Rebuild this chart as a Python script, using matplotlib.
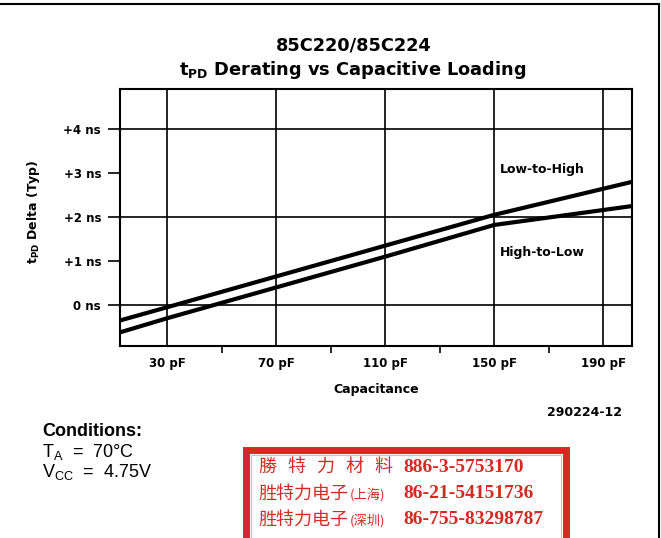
import matplotlib
matplotlib.use("Agg")
import matplotlib.pyplot as plt
from matplotlib.patches import Rectangle
from matplotlib.lines import Line2D

plt.rcParams['mathtext.fontset'] = 'custom'
plt.rcParams['mathtext.rm'] = 'Liberation Sans'
plt.rcParams['mathtext.it'] = 'Liberation Sans'
plt.rcParams['mathtext.bf'] = 'DejaVu Sans:bold'
plt.rcParams['font.family'] = 'DejaVu Sans'

# data
cap_pf = [12.75, 30, 70, 110, 150, 200.6]
low_to_high = [-0.35, -0.05, 0.65, 1.35, 2.05, 2.8]
high_to_low = [-0.62, -0.30, 0.40, 1.10, 1.82, 2.25]

x_major = [30, 70, 110, 150, 190]
x_minor = [50, 90, 130, 170]
x_labels = ["30 pF", "70 pF", "110 pF", "150 pF", "190 pF"]
y_ticks = [0, 1, 2, 3, 4]
y_labels = ["0 ns", "+1 ns", "+2 ns", "+3 ns", "+4 ns"]
y_grid = [0, 2, 4]

W, H = 661, 538
fig = plt.figure(figsize=(W / 100, H / 100), dpi=100)

def fx(px):
    return px / W

def fy(py):
    return 1 - py / H

ax = fig.add_axes([fx(120), fy(346), fx(632) - fx(120), fy(89) - fy(346)])
ax.set_xlim(12.75, 200.6)
ax.set_ylim(-0.93, 4.91)

for x in x_major:
    ax.axvline(x, color="black", lw=1.2, zorder=1)
for y in y_grid:
    ax.axhline(y, color="black", lw=1.2, zorder=1)

ax.plot(cap_pf, low_to_high, color="black", lw=3.0, solid_capstyle="butt", zorder=3)
ax.plot(cap_pf, high_to_low, color="black", lw=3.0, solid_capstyle="butt", zorder=3)

ax.text(152, 3.09, "Low-to-High", fontsize=9, weight="bold", va="center", ha="left")
ax.text(152, 1.20, "High-to-Low", fontsize=9, weight="bold", va="center", ha="left")

ax.set_xticks(x_major)
ax.set_xticklabels(x_labels, fontsize=8.5, weight="bold")
ax.set_xticks(x_minor, minor=True)
ax.tick_params(axis="x", which="major", length=0, pad=8)
ax.tick_params(axis="x", which="minor", length=5, width=1.2, direction="out")
ax.set_yticks(y_ticks)
ax.set_yticklabels(y_labels, fontsize=8.5, weight="bold")
ax.tick_params(axis="y", length=8.6, width=1.2, direction="out", pad=5)
for s in ax.spines.values():
    s.set_linewidth(1.5)

ax.set_xlabel("Capacitance", fontsize=9, weight="bold", labelpad=9)
fig.text(fx(33), fy(212), r"$\mathbf{t_{PD}}$ Delta (Typ)", rotation=90,
         fontsize=9, weight="bold", ha="center", va="center")

fig.text(fx(354), fy(45), "85C220/85C224", fontsize=12.8,
         weight="bold", ha="center", va="center")
fig.text(fx(353), fy(70), r"$\mathbf{t_{PD}}$ Derating vs Capacitive Loading", fontsize=12.8,
         weight="bold", ha="center", va="center")

fig.text(fx(622), fy(412), "290224-12", fontsize=9, weight="bold", ha="right", va="center")

fig.text(fx(42), fy(431), "Conditions:", fontsize=13, family="Liberation Sans",
         weight="bold", ha="left", va="center")
fig.text(fx(42), fy(452), r"$\mathrm{T_A}$  =  70°C", fontsize=13,
         family="Liberation Sans", ha="left", va="center")
fig.text(fx(42), fy(472), r"$\mathrm{V_{CC}}$  =  4.75V", fontsize=13,
         family="Liberation Sans", ha="left", va="center")

# page border
fig.add_artist(Line2D([0, fx(659)], [fy(4), fy(4)], color="black", lw=1.5))
fig.add_artist(Line2D([fx(659), fx(659)], [fy(4), 0], color="black", lw=1.5))

# red contact box
red = "#d42a22"
fig.add_artist(Rectangle((fx(246), fy(560)), fx(566) - fx(246), fy(450) - fy(560),
                         fill=False, edgecolor=red, lw=5))
fig.add_artist(Rectangle((fx(251), fy(560)), fx(561) - fx(251), fy(455) - fy(560),
                         fill=False, edgecolor="#f0b0b0", lw=0.8))

cjk = ["Noto Sans CJK TC", "DejaVu Sans"]
serif = ["Liberation Serif", "Noto Sans CJK SC"]
rows = [("勝特力材料", "", "886-3-5753170", 467),
        ("胜特力电子", "(上海)", "86-21-54151736", 494),
        ("胜特力电子", "(深圳)", "86-755-83298787", 520)]
for name, city, phone, y in rows:
    if city:
        fig.text(fx(258), fy(y), name, fontsize=13, family=cjk, color=red,
                 ha="left", va="center")
        fig.text(fx(350), fy(y + 1), city, fontsize=9.5, family=cjk, color=red,
                 ha="left", va="center")
    else:
        for i, ch in enumerate(name):
            fig.text(fx(258 + i * 29), fy(y), ch, fontsize=13, family=cjk, color=red,
                     ha="left", va="center")
    fig.text(fx(403), fy(y), phone, fontsize=14, family=serif, weight="bold",
             color=red, ha="left", va="center")

fig.savefig("out.png", dpi=100)
